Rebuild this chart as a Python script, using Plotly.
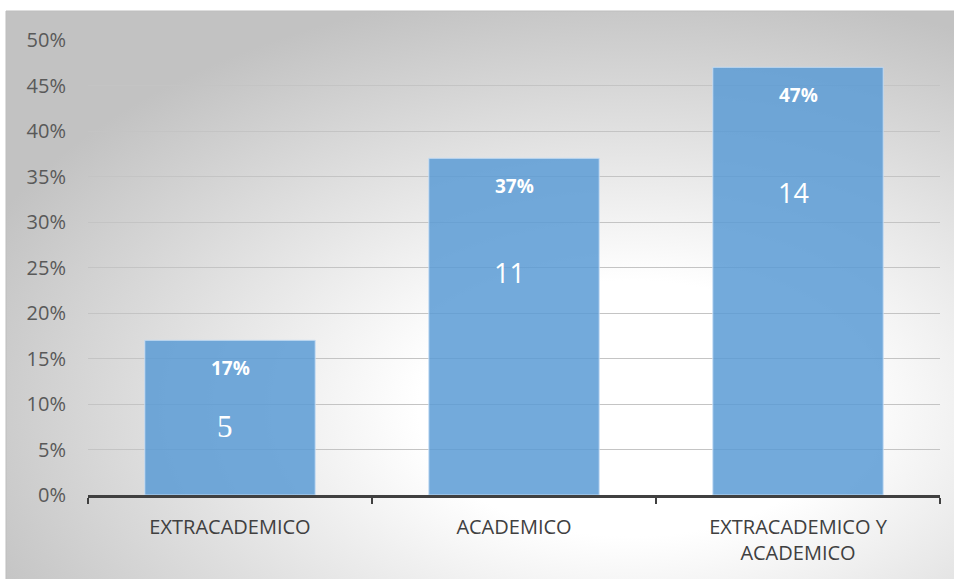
import base64
import plotly.graph_objects as go

categories = ["EXTRACADEMICO", "ACADEMICO", "EXTRACADEMICO Y<br>ACADEMICO"]
percent_values = [0.17, 0.37, 0.47]
percent_labels = ["17%", "37%", "47%"]
count_labels = ["5", "11", "14"]
count_label_y = [0.075, 0.244, 0.332]
count_fonts = ["Liberation Serif, DejaVu Serif, serif", "Open Sans", "Open Sans"]
count_sizes = [31, 27, 27]

W, H = 954, 579
L, R, T, B = 88, 14, 40, 84
pw, ph = W - L - R, H - T - B

fig = go.Figure()
fig.add_trace(go.Bar(
    x=categories, y=percent_values,
    marker=dict(color="rgba(91,155,213,0.85)", line=dict(color="rgba(200,222,245,0.9)", width=1)),
    hoverinfo="skip",
))

for c, v, pl, cl, cy, cf, cs in zip(categories, percent_values, percent_labels, count_labels,
                                     count_label_y, count_fonts, count_sizes):
    fig.add_annotation(x=c, y=v - 0.03, text="<b>%s</b>" % pl, showarrow=False,
                       font=dict(family="Open Sans", size=19, color="white"))
    fig.add_annotation(x=c, y=cy, text=cl, showarrow=False, xshift=-5,
                       font=dict(family=cf, size=cs, color="white"))

svg = (
    '<svg xmlns="http://www.w3.org/2000/svg" width="954" height="568" viewBox="0 0 954 568" preserveAspectRatio="none">'
    '<defs><radialGradient id="g" cx="0.66" cy="0.7" r="0.75" gradientUnits="objectBoundingBox">'
    '<stop offset="0" stop-color="#ffffff"/><stop offset="0.3" stop-color="#ffffff"/>'
    '<stop offset="1" stop-color="#c2c2c2"/></radialGradient></defs>'
    '<rect x="0" y="0" width="954" height="568" fill="url(#g)"/></svg>'
)
src = "data:image/svg+xml;base64," + base64.b64encode(svg.encode()).decode()

x0 = (6 - L) / pw
x1 = (W - L) / pw
y0 = (H - B - 11) / ph
y1 = (H - B - H) / ph
fig.add_layout_image(source=src, xref="paper", yref="paper", x=x0, y=y0,
                     sizex=x1 - x0, sizey=y0 - y1, sizing="stretch",
                     xanchor="left", yanchor="top", layer="below")
fig.add_shape(type="line", xref="paper", yref="paper", x0=x0, x1=x1, y0=y0, y1=y0,
              line=dict(color="#bdbdbd", width=1))
fig.add_shape(type="line", xref="paper", yref="paper", x0=x0, x1=x0, y0=y0, y1=y1,
              line=dict(color="#bdbdbd", width=1))

fig.update_layout(
    width=W, height=H,
    margin=dict(l=L, r=R, t=T, b=B),
    paper_bgcolor="white", plot_bgcolor="rgba(0,0,0,0)",
    bargap=0.4, showlegend=False,
    font=dict(family="Open Sans", color="#595959"),
)
fig.update_xaxes(
    type="category", tickson="boundaries", ticks="outside", ticklen=6, tickwidth=2,
    tickcolor="#404040", showline=True, linecolor="#404040", linewidth=3,
    showgrid=False, tickfont=dict(size=20, color="#404040"), ticklabelstandoff=12,
)
fig.update_yaxes(
    range=[0, 0.5], dtick=0.05, tickformat=".0%", showgrid=True,
    gridcolor="#c4c4c4", gridwidth=1, zeroline=False, showline=False,
    tickfont=dict(size=20, color="#595959"), ticks="", ticklabelstandoff=21,
)

fig.write_html("out.html")
